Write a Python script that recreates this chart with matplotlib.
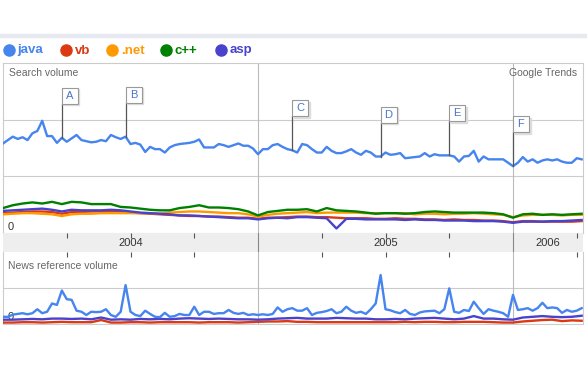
import matplotlib.pyplot as plt
import matplotlib.transforms as mtransforms
import numpy as np

plt.rcParams['font.family'] = ['Liberation Sans', 'DejaVu Sans']

# weekly data from Jan 2004 (week index)
weeks = np.arange(119)
weeks2 = np.arange(0, 119, 2)

java = [1.58, 1.64, 1.70, 1.66, 1.69, 1.64, 1.76, 1.80, 1.98, 1.71,
        1.71, 1.59, 1.68, 1.61, 1.67, 1.73, 1.64, 1.62, 1.60, 1.61,
        1.64, 1.62, 1.73, 1.69, 1.66, 1.70, 1.57, 1.59, 1.56, 1.43,
        1.52, 1.48, 1.48, 1.42, 1.51, 1.55, 1.57, 1.58, 1.59, 1.61,
        1.65, 1.51, 1.51, 1.51, 1.57, 1.55, 1.52, 1.55, 1.58, 1.54,
        1.54, 1.49, 1.39, 1.48, 1.48, 1.55, 1.57, 1.52, 1.48, 1.46,
        1.42, 1.57, 1.55, 1.48, 1.42, 1.42, 1.52, 1.45, 1.41, 1.41,
        1.44, 1.48, 1.42, 1.38, 1.45, 1.42, 1.35, 1.35, 1.42, 1.38,
        1.39, 1.41, 1.32, 1.33, 1.34, 1.35, 1.41, 1.35, 1.39, 1.37,
        1.37, 1.37, 1.35, 1.26, 1.35, 1.36, 1.45, 1.26, 1.35, 1.30,
        1.30, 1.30, 1.30, 1.24, 1.18, 1.24, 1.34, 1.26, 1.30, 1.24,
        1.28, 1.30, 1.28, 1.30, 1.26, 1.24, 1.24, 1.32, 1.30]

# every two weeks
cpp = [0.44, 0.49, 0.52, 0.54, 0.52, 0.55, 0.51, 0.55, 0.54, 0.51,
       0.51, 0.51, 0.46, 0.45, 0.43, 0.41, 0.40, 0.40, 0.44, 0.46,
       0.49, 0.45, 0.45, 0.44, 0.42, 0.38, 0.31, 0.37, 0.39, 0.41,
       0.41, 0.42, 0.38, 0.44, 0.40, 0.39, 0.38, 0.36, 0.34, 0.35,
       0.35, 0.34, 0.35, 0.37, 0.38, 0.37, 0.36, 0.36, 0.36, 0.36,
       0.35, 0.33, 0.27, 0.33, 0.34, 0.32, 0.33, 0.32, 0.33, 0.34]
dotnet = [0.33, 0.34, 0.35, 0.35, 0.34, 0.33, 0.30, 0.33, 0.34, 0.34,
          0.35, 0.35, 0.35, 0.35, 0.35, 0.35, 0.34, 0.36, 0.37, 0.38,
          0.38, 0.37, 0.36, 0.35, 0.35, 0.33, 0.29, 0.32, 0.34, 0.35,
          0.36, 0.37, 0.35, 0.36, 0.36, 0.36, 0.36, 0.35, 0.35, 0.35,
          0.35, 0.35, 0.33, 0.34, 0.34, 0.33, 0.34, 0.34, 0.35, 0.34,
          0.33, 0.32, 0.28, 0.31, 0.32, 0.32, 0.32, 0.31, 0.32, 0.32]
asp = [0.39, 0.40, 0.41, 0.42, 0.43, 0.41, 0.38, 0.41, 0.40, 0.40,
       0.40, 0.41, 0.40, 0.38, 0.36, 0.35, 0.34, 0.33, 0.31, 0.31,
       0.30, 0.29, 0.28, 0.27, 0.26, 0.26, 0.24, 0.26, 0.27, 0.26,
       0.28, 0.28, 0.27, 0.26, 0.08, 0.25, 0.25, 0.24, 0.24, 0.24,
       0.24, 0.23, 0.24, 0.23, 0.23, 0.22, 0.22, 0.22, 0.21, 0.21,
       0.21, 0.20, 0.18, 0.20, 0.20, 0.20, 0.21, 0.21, 0.22, 0.23]
vb = [0.35, 0.36, 0.37, 0.38, 0.38, 0.37, 0.34, 0.37, 0.37, 0.38,
      0.38, 0.38, 0.37, 0.36, 0.35, 0.34, 0.33, 0.32, 0.31, 0.30,
      0.30, 0.29, 0.29, 0.28, 0.27, 0.27, 0.25, 0.27, 0.27, 0.28,
      0.29, 0.29, 0.28, 0.28, 0.27, 0.26, 0.26, 0.26, 0.25, 0.25,
      0.26, 0.25, 0.25, 0.24, 0.24, 0.23, 0.24, 0.23, 0.23, 0.22,
      0.22, 0.21, 0.19, 0.21, 0.21, 0.20, 0.20, 0.20, 0.20, 0.21]

news_java = [0.20, 0.20, 0.26, 0.28, 0.30, 0.27, 0.30, 0.41, 0.30, 0.34,
             0.57, 0.53, 0.93, 0.69, 0.67, 0.37, 0.34, 0.25, 0.34, 0.33,
             0.34, 0.41, 0.25, 0.20, 0.34, 1.08, 0.34, 0.25, 0.22, 0.37,
             0.28, 0.20, 0.19, 0.31, 0.20, 0.22, 0.28, 0.25, 0.25, 0.48,
             0.25, 0.34, 0.34, 0.28, 0.30, 0.30, 0.39, 0.31, 0.28, 0.31,
             0.25, 0.27, 0.25, 0.27, 0.25, 0.28, 0.46, 0.34, 0.41, 0.44,
             0.37, 0.37, 0.44, 0.25, 0.31, 0.33, 0.36, 0.41, 0.30, 0.34,
             0.48, 0.37, 0.31, 0.34, 0.28, 0.41, 0.57, 1.36, 0.41, 0.38,
             0.33, 0.30, 0.39, 0.28, 0.25, 0.32, 0.35, 0.36, 0.37, 0.30,
             0.41, 0.99, 0.34, 0.31, 0.39, 0.36, 0.62, 0.44, 0.28, 0.41,
             0.37, 0.34, 0.30, 0.20, 0.81, 0.39, 0.41, 0.44, 0.37, 0.44,
             0.59, 0.44, 0.46, 0.44, 0.31, 0.39, 0.34, 0.37, 0.44]
news_asp = [0.12, 0.12, 0.13, 0.14, 0.13, 0.15, 0.15, 0.14, 0.15, 0.13,
            0.18, 0.12, 0.13, 0.12, 0.14, 0.13, 0.14, 0.13, 0.15, 0.16,
            0.15, 0.14, 0.15, 0.14, 0.13, 0.13, 0.12, 0.13, 0.15, 0.16,
            0.17, 0.15, 0.15, 0.15, 0.17, 0.16, 0.15, 0.15, 0.13, 0.13,
            0.14, 0.13, 0.15, 0.16, 0.17, 0.15, 0.13, 0.15, 0.22, 0.15,
            0.15, 0.13, 0.12, 0.18, 0.20, 0.22, 0.20, 0.19, 0.20, 0.23]
news_vb = [0.04, 0.04, 0.05, 0.05, 0.04, 0.05, 0.06, 0.05, 0.05, 0.05,
           0.11, 0.04, 0.04, 0.05, 0.05, 0.04, 0.05, 0.05, 0.05, 0.05,
           0.04, 0.05, 0.05, 0.05, 0.04, 0.05, 0.06, 0.07, 0.07, 0.08,
           0.06, 0.06, 0.05, 0.05, 0.05, 0.05, 0.05, 0.05, 0.05, 0.05,
           0.05, 0.06, 0.05, 0.06, 0.06, 0.05, 0.05, 0.06, 0.06, 0.06,
           0.05, 0.04, 0.04, 0.07, 0.09, 0.11, 0.12, 0.08, 0.10, 0.09]

flag_letters = ['A', 'B', 'C', 'D', 'E', 'F']
flag_weeks = [12, 25, 59, 77, 91, 104]

names = ['java', 'vb', '.net', 'c++', 'asp']
colors = {'java': '#4684ee', 'vb': '#dc3912', '.net': '#ff9900',
          'c++': '#008000', 'asp': '#4942cc'}

W, H = 587, 384
fig = plt.figure(figsize=(W / 100, H / 100), dpi=100)


def fx(px):
    return px / W


def fy(py):
    return 1 - py / H


def yr(w):
    return 2004 + np.asarray(w) / 52.0


x0, x1 = 2004, 2004 + 580 / 255
quarters = [2004.25, 2004.5, 2004.75, 2005.25, 2005.5, 2005.75, 2006.25]
years = [2005, 2006]
grid_c = '#cccccc'
lw = 1.7

# top band
fig.patches.append(plt.Rectangle((0, fy(37)), 1, 3 / H, transform=fig.transFigure,
                                 color='#e6e9f0', zorder=0))

# legend
leg_x = [8.5, 65.5, 112, 165.5, 220.5]
for nm, lx in zip(names, leg_x):
    fig.lines.append(plt.Line2D([fx(lx)], [fy(50)], marker='o', ms=8, color=colors[nm],
                                transform=fig.transFigure))
    fig.text(fx(lx + 9), fy(50.5), nm, color=colors[nm], fontsize=9.5, fontweight='bold',
             va='center', ha='left')

# search volume panel
ax = fig.add_axes([fx(3), fy(233), fx(580), 170 / H])
ax.plot(yr(weeks2), vb, color=colors['vb'], lw=lw, zorder=3)
ax.plot(yr(weeks2), dotnet, color=colors['.net'], lw=lw, zorder=3)
ax.plot(yr(weeks2), asp, color=colors['asp'], lw=lw, zorder=4)
ax.plot(yr(weeks2), cpp, color=colors['c++'], lw=lw, zorder=5)
ax.plot(yr(weeks), java, color=colors['java'], lw=lw, zorder=6)
ax.set_xlim(x0, x1)
ax.set_ylim(0, 3)
for g in [1, 2]:
    ax.axhline(g, color=grid_c, lw=0.8, zorder=1)
for yy in years:
    ax.axvline(yy, color='#bbbbbb', lw=0.8, zorder=1)
ax.set_xticks([])
ax.set_yticks([])
for s in ax.spines.values():
    s.set_color(grid_c)
    s.set_linewidth(0.8)
ax.text(0.01, 0.94, 'Search volume', transform=ax.transAxes, fontsize=7.5,
        color='#666666', va='center')
ax.text(0.99, 0.94, 'Google Trends', transform=ax.transAxes, fontsize=7.5,
        color='#666666', va='center', ha='right')
ax.text(fx(10.5), fy(226.5), '0', transform=fig.transFigure, fontsize=8,
        color='#333333', ha='center', va='center')

# flags
box_tr = mtransforms.offset_copy(ax.transData, fig=fig, x=8, y=8, units='dots')
shadow_tr = mtransforms.offset_copy(ax.transData, fig=fig, x=9.5, y=6.5, units='dots')
for letter, wk in zip(flag_letters, flag_weeks):
    xv = yr(wk)
    top = java[wk] + 0.6
    ax.plot([xv, xv], [java[wk], top], color='#555555', lw=0.9, zorder=7)
    ax.plot([xv], [top], marker='s', ms=11.5, mfc='#dddddd', mec='#dddddd',
            transform=shadow_tr, zorder=7)
    ax.plot([xv], [top], marker='s', ms=11.5, mfc='white', mec='#999999', mew=0.8,
            transform=box_tr, zorder=8)
    ax.text(xv, top, letter, transform=box_tr, fontsize=8, color='#4a74c9',
            ha='center', va='center', zorder=9)

# date band
band = fig.add_axes([fx(3), fy(252), fx(580), 19 / H])
band.set_facecolor('#eeeeee')
band.set_xlim(x0, x1)
band.set_ylim(0, 1)
for yy in years:
    band.axvline(yy, color='#888888', lw=0.8)
band.set_xticks(quarters)
band.tick_params(axis='x', direction='in', length=3.6, color='#555555',
                 labelbottom=False, bottom=False, top=True)
band.set_yticks([])
for s in band.spines.values():
    s.set_visible(False)
year_lbl = ['2004', '2005', '2006']
year_mid = [2004.5, 2005.5, (2006 + x1) / 2]
for lbl, xm in zip(year_lbl, year_mid):
    band.text(xm, 0.5, lbl, fontsize=8, color='#333333', ha='center', va='center')

# news panel
nax = fig.add_axes([fx(3), fy(324), fx(580), 72 / H])
nax.plot(yr(weeks2), news_vb, color=colors['vb'], lw=lw, zorder=3)
nax.plot(yr(weeks2), news_asp, color=colors['asp'], lw=lw, zorder=4)
nax.plot(yr(weeks), news_java, color=colors['java'], lw=lw, zorder=5)
nax.set_xlim(x0, x1)
nax.set_ylim(0, 2)
nax.axhline(1, color=grid_c, lw=0.8, zorder=1)
for yy in years:
    nax.axvline(yy, color='#bbbbbb', lw=0.8, zorder=1)
nax.set_xticks(quarters)
nax.tick_params(axis='x', direction='in', length=3.6, color='#555555',
                labelbottom=False, bottom=False, top=True)
nax.set_yticks([])
for s in nax.spines.values():
    s.set_color(grid_c)
    s.set_linewidth(0.8)
nax.spines['top'].set_visible(False)
nax.text(fx(8), fy(266), 'News reference volume', transform=fig.transFigure,
         fontsize=7.5, color='#666666', va='center')
nax.text(fx(10.5), fy(316.5), '0', transform=fig.transFigure, fontsize=8,
         color='#333333', ha='center', va='center', zorder=2)

fig.savefig('out.png', dpi=100)
